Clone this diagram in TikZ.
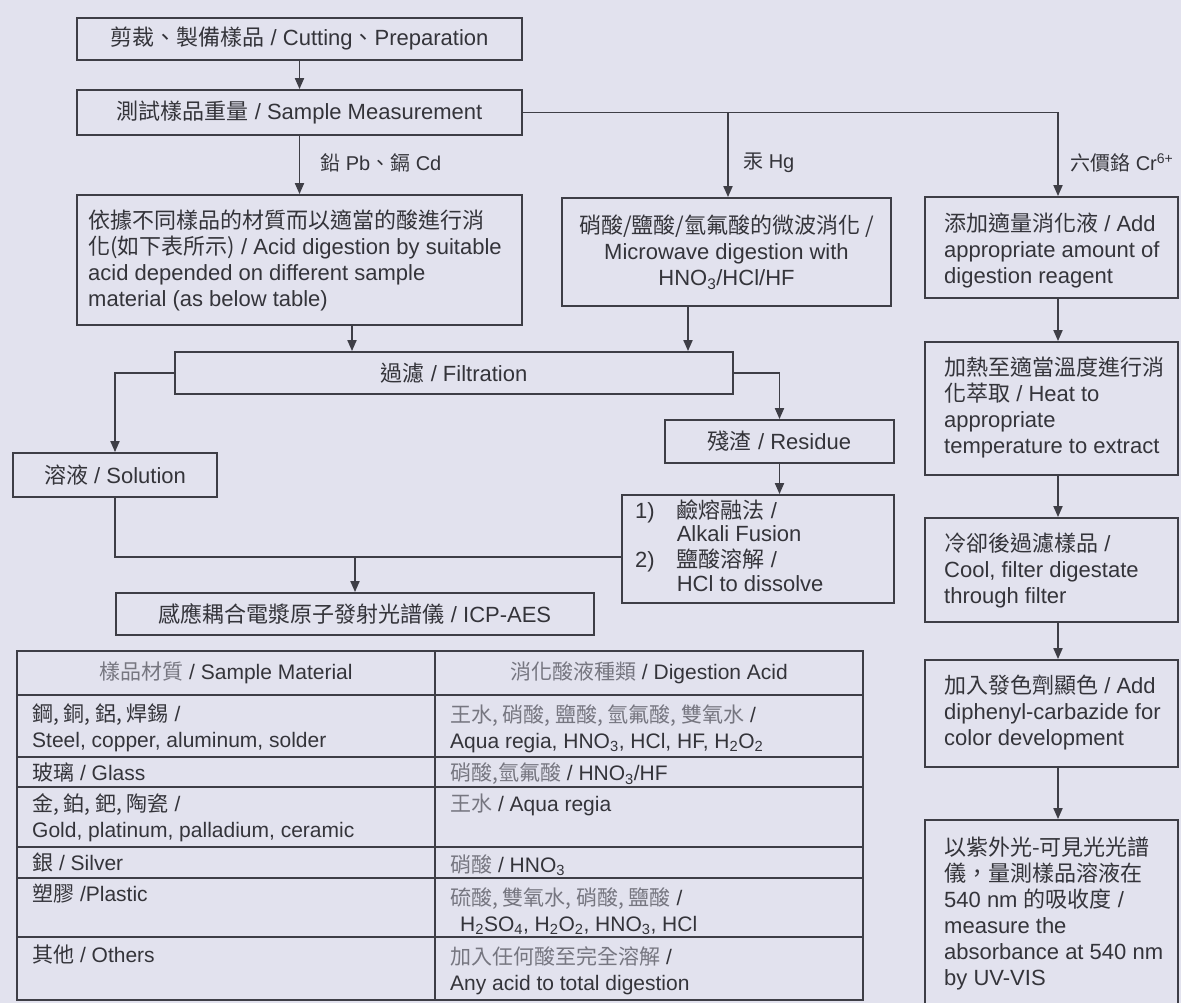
\documentclass[tikz,border=0pt]{standalone}
\usepackage{fontspec}
\setmainfont{Liberation Sans}
\newfontfamily\cjkf{Noto Sans CJK TC}
\usetikzlibrary{arrows.meta}
\definecolor{bg}{RGB}{226,226,238}
\definecolor{ln}{RGB}{62,62,70}
\definecolor{tx}{RGB}{52,52,58}
\definecolor{lt}{RGB}{118,118,128}
\newcommand\zh[1]{{\cjkf #1}}
\newcommand\zl[1]{{\cjkf\color{lt}#1}}
\begin{document}
\begin{tikzpicture}[x=1pt,y=-1pt,
 fsz/.style={font=\fontsize{22}{26}\selectfont},
 box/.style={draw=ln, line width=1.8pt, rectangle, inner sep=0pt, text=tx, fsz},
 txt/.style={text=tx, fsz, anchor=west, align=left, inner sep=0pt},
 arr/.style={draw=ln, line width=1.8pt, -{Triangle[length=11pt,width=9pt]}},
 con/.style={draw=ln, line width=1.8pt},
 lbl/.style={text=tx, font=\fontsize{20}{24}\selectfont, anchor=west, inner sep=0pt},
 cell/.style={text=tx, font=\fontsize{21}{26}\selectfont, anchor=west, align=left, inner sep=0pt},
 rule/.style={draw=ln, line width=1.6pt},
]
\fill[bg] (0,0) rectangle (1181,1003);
\useasboundingbox (0,0) rectangle (1181,1003);

% ---- top boxes
\node[box, minimum width=445, minimum height=42] (cut) at (299.5,39) {\zh{剪裁、製備樣品} / Cutting\zh{、}Preparation};
\node[box, minimum width=445, minimum height=45] (meas) at (299.5,112.5) {\zh{測試樣品重量} / Sample Measurement};

% ---- branch boxes
\node[box, minimum width=445, minimum height=130] (acid) at (299.5,260) {};
\node[txt] (acidT) at (88,260) {\zh{依據不同樣品的材質而以適當的酸進行消}\\
\zh{化(如下表所示)} / Acid digestion by suitable\\
acid depended on different sample\\
material (as below table)};

\node[box, minimum width=329, minimum height=108, align=center] (micro) at (726.5,252)
 {\zh{硝酸/鹽酸/氫氟酸的微波消化 /}\\Microwave digestion with\\HNO\textsubscript{3}/HCl/HF};

\node[box, minimum width=253, minimum height=101] (add) at (1051.5,247.5) {};
\node[txt] (addT) at (944,250) {\zh{添加適量消化液} / Add\\appropriate amount of\\digestion reagent};

\node[box, minimum width=253, minimum height=133] (heat) at (1051.5,408.5) {};
\node[txt] (heatT) at (944,407) {\zh{加熱至適當溫度進行消}\\\zh{化萃取} / Heat to\\appropriate\\temperature to extract};

\node[box, minimum width=253, minimum height=104] (cool) at (1051.5,570) {};
\node[txt] (coolT) at (944,571) {\zh{冷卻後過濾樣品} /\\Cool, filter digestate\\through filter};

\node[box, minimum width=253, minimum height=107] (diph) at (1051.5,713.5) {};
\node[txt] (diphT) at (944,712) {\zh{加入發色劑顯色} / Add\\diphenyl-carbazide for\\color development};

\node[box, minimum width=253, minimum height=195] (uv) at (1051.5,917.5) {};
\node[txt] (uvT) at (944,913) {\zh{以紫外光-可見光光譜}\\\zh{儀，量測樣品溶液在}\\540 nm \zh{的吸收度} /\\measure the\\absorbance at 540 nm\\by UV-VIS};

% ---- middle
\node[box, minimum width=558, minimum height=42] (filt) at (454,373) {\zh{過濾} / Filtration};
\node[box, minimum width=229, minimum height=43] (resid) at (779.5,441.5) {\zh{殘渣} / Residue};
\node[box, minimum width=272, minimum height=108] (fusion) at (758,549) {};
\node[txt, font=\fontsize{22}{23.5}\selectfont] (fusT) at (635,549) {\begin{tabular}{@{}l@{\hspace{22pt}}l@{}}1) & \zh{鹼熔融法} /\\ & Alkali Fusion\\ 2) & \zh{鹽酸溶解} /\\ & HCl to dissolve\end{tabular}};
\node[box, minimum width=204, minimum height=44] (sol) at (115,475) {\zh{溶液} / Solution};
\node[box, minimum width=478, minimum height=42] (icp) at (355,614) {\zh{感應耦合電漿原子發射光譜儀} / ICP-AES};

% ---- labels
\node[lbl] (lPb) at (320,163) {\zh{鉛} Pb\zh{、}\zh{鎘} Cd};
\node[lbl] (lHg) at (743,163) {\zh{汞} Hg};
\node[lbl] (lCr) at (1070,163) {\zh{六價鉻} Cr\textsuperscript{6+}};

% ---- coordinates
\coordinate (jHg) at (728,112.5);
\coordinate (jCr) at (1058,112.5);
\coordinate (a1) at (352,0);
\coordinate (a2) at (688,0);
\coordinate (cx) at (1058,0);
\coordinate (jS) at (115,557);
\coordinate (jI) at (355,557);

% ---- connectors
\draw[arr] (cut.south) -- (meas.north);
\draw[con] (meas.east) -- (jCr);
\draw[arr] (jHg) -- (jHg |- micro.north);
\draw[arr] (jCr) -- (jCr |- add.north);
\draw[arr] (meas.south) -- (acid.north);
\draw[arr] (acid.south -| a1) -- (filt.north -| a1);
\draw[arr] (micro.south -| a2) -- (filt.north -| a2);
\draw[arr] (filt.west) -| (sol.north);
\draw[arr] (filt.east) -| (resid.north);
\draw[arr] (resid.south) -- (resid.south |- fusion.north);
\draw[con] (sol.south) -- (jS) -- (jS -| fusion.west);
\draw[arr] (jI) -- (icp.north);
\draw[arr] (add.south -| cx) -- (heat.north -| cx);
\draw[arr] (heat.south -| cx) -- (cool.north -| cx);
\draw[arr] (cool.south -| cx) -- (diph.north -| cx);
\draw[arr] (diph.south -| cx) -- (uv.north -| cx);

% ---- table
\draw[rule] (17,651) rectangle (863,1000);
\draw[rule] (435,651) -- (435,1000);
\foreach \yy in {695,757,787,847,878,937} \draw[rule] (17,\yy) -- (863,\yy);

\node[cell, anchor=center] (h1) at (226,673) {\zl{樣品材質} / Sample Material};
\node[cell, anchor=center] (h2) at (649,673) {\zl{消化酸液種類} / Digestion Acid};

\node[cell] (m1) at (32,728) {\zh{鋼, 銅, 鋁, 焊錫} /\\Steel, copper, aluminum, solder};
\node[cell] (m2) at (32,772) {\zh{玻璃} / Glass};
\node[cell] (m3) at (32,818) {\zh{金, 鉑, 鈀, 陶瓷} /\\Gold, platinum, palladium, ceramic};
\node[cell] (m4) at (32,863) {\zh{銀} / Silver};
\node[cell] (m5) at (32,894) {\zh{塑膠} /Plastic};
\node[cell] (m6) at (32,955) {\zh{其他} / Others};

\node[cell] (d1) at (450,729) {\zl{王水, 硝酸, 鹽酸, 氫氟酸, 雙氧水} /\\Aqua regia, HNO\textsubscript{3}, HCl, HF, H\textsubscript{2}O\textsubscript{2}};
\node[cell] (d2) at (450,774) {\zl{硝酸,氫氟酸} / HNO\textsubscript{3}/HF};
\node[cell] (d3) at (450,805) {\zl{王水} / Aqua regia};
\node[cell] (d4) at (450,865) {\zl{硝酸} / HNO\textsubscript{3}};
\node[cell] (d5) at (450,911) {\zl{硫酸, 雙氧水, 硝酸, 鹽酸} /\\\hspace{10pt}H\textsubscript{2}SO\textsubscript{4}, H\textsubscript{2}O\textsubscript{2}, HNO\textsubscript{3}, HCl};
\node[cell] (d6) at (450,971) {\zl{加入任何酸至完全溶解} /\\Any acid to total digestion};
\end{tikzpicture}
\end{document}
